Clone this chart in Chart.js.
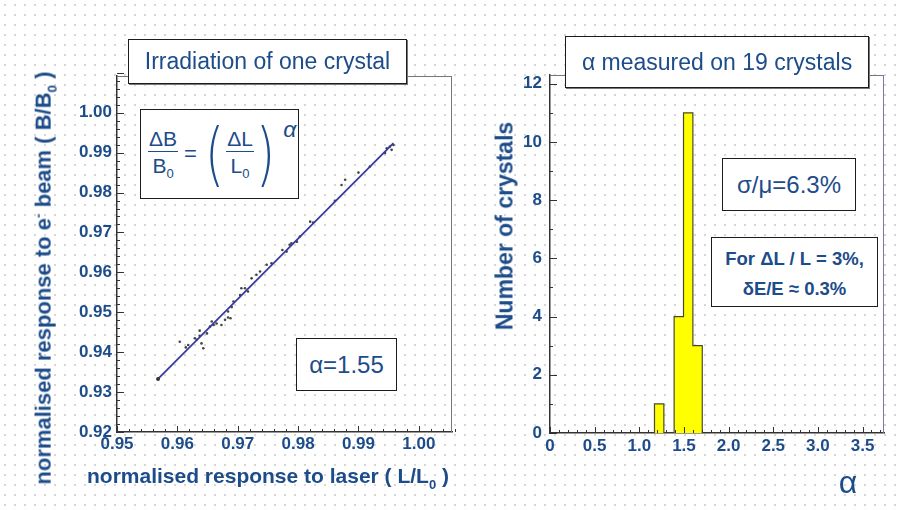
<!DOCTYPE html>
<html>
<head>
<meta charset="utf-8">
<script src="https://cdn.jsdelivr.net/npm/chart.js@4.4.0/dist/chart.umd.min.js"></script>
<style>
  html, body { margin: 0; padding: 0; }
  body {
    width: 900px; height: 510px; position: relative; overflow: hidden;
    background-color: #fff;
    background-image: radial-gradient(circle, #d6d6d6 0.9px, transparent 1.3px);
    background-size: 10px 10px;
    font-family: 'Liberation Sans', Arial, sans-serif;
    color: #1d4c8a;
  }
  canvas { position: absolute; top: 0; }
  #left { left: 0; }
  #right { left: 460px; }
  .box {
    position: absolute; background: #fff; border: 1.5px solid #1c1c1c; box-sizing: border-box;
    display: flex; align-items: center; justify-content: center; text-align: center; white-space: nowrap;
  }
  .title { box-shadow: 1px 1px 0 #777; font-size: 23px; }
  .lbl { position: absolute; white-space: nowrap; font-weight: bold; transform: translate(-50%, -50%); }
  .vert { transform: translate(-50%, -50%) rotate(-90deg); }
  sub, sup { font-size: 62%; }
  .frac { display: inline-flex; flex-direction: column; align-items: center; line-height: 1; }
  .frac .num { border-bottom: 1.5px solid #1d4c8a; padding: 0 1px 2px; }
  .frac .den { padding-top: 3px; }
  .paren { font-family: 'DejaVu Sans', sans-serif; font-weight: 200; font-size: 70px; transform: scaleX(0.7); display: inline-block; line-height: 1; margin: 0 -2px; }
</style>
</head>
<body>
<canvas id="left" width="460" height="510"></canvas>
<canvas id="right" width="440" height="510"></canvas>

<div class="box title" style="left:128px;top:39px;width:279px;height:45px;">Irradiation of one crystal</div>
<div class="box" style="left:140px;top:109px;width:159px;height:90px;font-size:21px;justify-content:flex-start;padding-left:7px;">
  <span class="frac"><span class="num">&Delta;B</span><span class="den">B<sub>0</sub></span></span>
  <span style="margin:0 6px;font-size:22px;">=</span>
  <span class="paren">(</span>
  <span class="frac"><span class="num">&Delta;L</span><span class="den">L<sub>0</sub></span></span>
  <span class="paren">)</span>
  <span style="font-style:italic;font-size:23px;align-self:flex-start;margin-top:6px;margin-left:6px;">&alpha;</span>
</div>
<div class="box" style="left:296px;top:338px;width:101px;height:53px;font-size:24px;">&alpha;=1.55</div>
<div class="lbl vert" style="left:45px;top:278px;font-size:22px;">normalised response to e<sup>-</sup> beam ( B/B<sub>0</sub> )</div>
<div class="lbl" style="left:268px;top:478px;font-size:21px;">normalised response to laser ( L/L<sub>0</sub> )</div>

<div class="box title" style="left:565px;top:36px;width:304px;height:52px;">&alpha; measured on 19 crystals</div>
<div class="box" style="left:722px;top:158px;width:134px;height:53px;font-size:24px;">&sigma;/&mu;=6.3%</div>
<div class="box" style="left:711px;top:237px;width:167px;height:70px;font-size:18.5px;font-weight:bold;line-height:30px;padding-top:4px;">For &Delta;L / L = 3%,<br>&delta;E/E &asymp; 0.3%</div>
<div class="lbl vert" style="left:505px;top:226px;font-size:23px;">Number of crystals</div>
<div class="lbl" style="left:848px;top:482px;font-size:32px;font-weight:normal;">&alpha;</div>

<script>
// left panel: one crystal, laser response vs e- beam response
const laserResp = [0.9604, 0.9614, 0.9618, 0.9629, 0.9632, 0.9637, 0.9640, 0.9643, 0.9637, 0.9649,
  0.9654, 0.9657, 0.9660, 0.9665, 0.9673, 0.9679, 0.9684, 0.9688, 0.9684, 0.9690,
  0.9693, 0.9704, 0.9706, 0.9712, 0.9717, 0.9723, 0.9731, 0.9737, 0.9748, 0.9756,
  0.9774, 0.9781, 0.9789, 0.9798, 0.9803, 0.9786, 0.9820, 0.9825, 0.9861, 0.9872,
  0.9878, 0.9900, 0.9919, 0.9944, 0.9947, 0.9952, 0.9958, 0.9955]
const beamResp = [0.9426, 0.9412, 0.9418, 0.9435, 0.9431, 0.9441, 0.9422, 0.9410, 0.9454, 0.9447,
  0.9464, 0.9477, 0.9468, 0.9472, 0.9468, 0.9481, 0.9487, 0.9485, 0.9502, 0.9513,
  0.9527, 0.9543, 0.9560, 0.9560, 0.9552, 0.9585, 0.9594, 0.9602, 0.9619, 0.9623,
  0.9656, 0.9652, 0.9673, 0.9677, 0.9690, 0.9669, 0.9727, 0.9725, 0.9779, 0.9819,
  0.9832, 0.9850, 0.9865, 0.9899, 0.9911, 0.9915, 0.9919, 0.9907]
const fitLaser = [0.9568, 0.9958]
const fitBeam = [0.9333, 0.9924]
const leftXTicks = [0.95, 0.96, 0.97, 0.98, 0.99, 1.00]
const leftYTicks = [0.92, 0.93, 0.94, 0.95, 0.96, 0.97, 0.98, 0.99, 1.00]

// right panel: histogram of alpha over 19 crystals
const histEdges = [1.17, 1.275, 1.39, 1.495, 1.60, 1.705]
const histCounts = [1, 0, 4, 11, 3]
const rightXTicks = [0, 0.5, 1.0, 1.5, 2.0, 2.5, 3.0, 3.5]
const rightYTicks = [0, 2, 4, 6, 8, 10, 12]

const textBlue = '#1d4c8a'
Chart.defaults.font.family = '\'Liberation Sans\', Arial, sans-serif'
Chart.defaults.animation = false

// fixed plot boxes so both panels sit where the slide has them
function fixWidth(w) { return (axis) => { axis.width = w } }
function fixHeight(h) { return (axis) => { axis.height = h } }
function setTicks(values) { return (axis) => { axis.ticks = values.map(v => ({ value: v })) } }

// inward tick marks + top/right frame
const frameTicks = {
  id: 'frameTicks',
  afterDraw(chart, args, opts) {
    const { ctx, chartArea: a, scales: { x, y } } = chart
    ctx.save()
    ctx.lineWidth = 1
    ctx.strokeStyle = opts.topColor
    ctx.beginPath()
    ctx.moveTo(a.left, a.top + 0.5)
    ctx.lineTo(a.right, a.top + 0.5)
    ctx.stroke()
    ctx.strokeStyle = opts.rightColor
    ctx.beginPath()
    ctx.moveTo(a.right - 0.5, a.top)
    ctx.lineTo(a.right - 0.5, a.bottom)
    ctx.stroke()

    ctx.strokeStyle = '#333'
    ctx.beginPath()
    const nx = Math.round((x.max - x.min) / opts.xMinor)
    for (let i = 0; i <= nx; i++) {
      const v = x.min + i * opts.xMinor
      const major = Math.abs(v / opts.xMajor - Math.round(v / opts.xMajor)) < 1e-6
      const px = Math.round(x.getPixelForValue(v)) + 0.5
      ctx.moveTo(px, a.bottom)
      ctx.lineTo(px, a.bottom - (major ? 6 : 3))
    }
    const ny = Math.round((y.max - y.min) / opts.yMinor)
    for (let i = 0; i <= ny; i++) {
      const v = y.min + i * opts.yMinor
      const major = Math.abs(v / opts.yMajor - Math.round(v / opts.yMajor)) < 1e-6
      const py = Math.round(y.getPixelForValue(v)) + 0.5
      ctx.moveTo(a.left, py)
      ctx.lineTo(a.left + (major ? 7 : 3), py)
    }
    ctx.stroke()
    ctx.restore()
  }
}

const tickFont = { size: 17, weight: 'bold' }

new Chart(document.getElementById('left'), {
  data: {
    datasets: [
      {
        type: 'line',
        data: fitLaser.map((v, i) => ({ x: v, y: fitBeam[i] })),
        borderColor: '#3a3a9e',
        borderWidth: 1.8,
        pointRadius: [2, 0],
        pointBackgroundColor: '#333',
        pointBorderWidth: 0
      },
      {
        type: 'scatter',
        data: laserResp.map((v, i) => ({ x: v, y: beamResp[i] })),
        pointRadius: 1.3,
        pointBackgroundColor: '#444',
        pointBorderWidth: 0
      }
    ]
  },
  options: {
    responsive: false,
    layout: { padding: { left: 0, top: 76, right: 8, bottom: 0 } },
    scales: {
      x: {
        type: 'linear',
        min: 0.95,
        max: 1.0055,
        afterFit: fixHeight(78),
        afterBuildTicks: setTicks(leftXTicks),
        border: { color: '#333', width: 1.5 },
        grid: { display: false, drawTicks: false },
        ticks: { color: textBlue, font: tickFont, padding: 2, callback: v => v.toFixed(2) }
      },
      y: {
        type: 'linear',
        min: 0.92,
        max: 1.0092,
        afterFit: fixWidth(117),
        afterBuildTicks: setTicks(leftYTicks),
        border: { color: '#333', width: 1.5 },
        grid: { display: false, drawTicks: false },
        ticks: { color: textBlue, font: tickFont, padding: 5, callback: v => v.toFixed(2) }
      }
    },
    plugins: {
      legend: { display: false },
      tooltip: { enabled: false },
      frameTicks: { topColor: '#777', rightColor: '#777', xMinor: 0.002, xMajor: 0.01, yMinor: 0.002, yMajor: 0.01 }
    }
  },
  plugins: [frameTicks]
})

// step outline of the histogram, built from the bin edges and counts
const histPoints = [{ x: histEdges[0], y: 0 }]
histCounts.forEach((c, i) => histPoints.push({ x: histEdges[i], y: c }))
histPoints.push({ x: histEdges[histEdges.length - 1], y: 0 })

new Chart(document.getElementById('right'), {
  type: 'line',
  data: {
    datasets: [{
      data: histPoints,
      stepped: 'before',
      fill: 'origin',
      backgroundColor: '#ffff00',
      borderColor: '#4a4a2a',
      borderWidth: 1.2,
      pointRadius: 0
    }]
  },
  options: {
    responsive: false,
    layout: { padding: { left: 0, top: 75, right: 16, bottom: 0 } },
    scales: {
      x: {
        type: 'linear',
        min: 0,
        max: 3.74,
        afterFit: fixHeight(77),
        afterBuildTicks: setTicks(rightXTicks),
        border: { color: '#333', width: 1.5 },
        grid: { display: false, drawTicks: false },
        ticks: { color: textBlue, font: tickFont, padding: 3, callback: v => v === 0 ? '0' : v.toFixed(1) }
      },
      y: {
        type: 'linear',
        min: 0,
        max: 12.3,
        afterFit: fixWidth(90),
        afterBuildTicks: setTicks(rightYTicks),
        border: { color: '#333', width: 1.5 },
        grid: { display: false, drawTicks: false },
        ticks: { color: textBlue, font: tickFont, padding: 8 }
      }
    },
    plugins: {
      legend: { display: false },
      tooltip: { enabled: false },
      frameTicks: { topColor: '#777', rightColor: '#7a76b0', xMinor: 0.1, xMajor: 0.5, yMinor: 1, yMajor: 2 }
    }
  },
  plugins: [frameTicks]
})
</script>
</body>
</html>
